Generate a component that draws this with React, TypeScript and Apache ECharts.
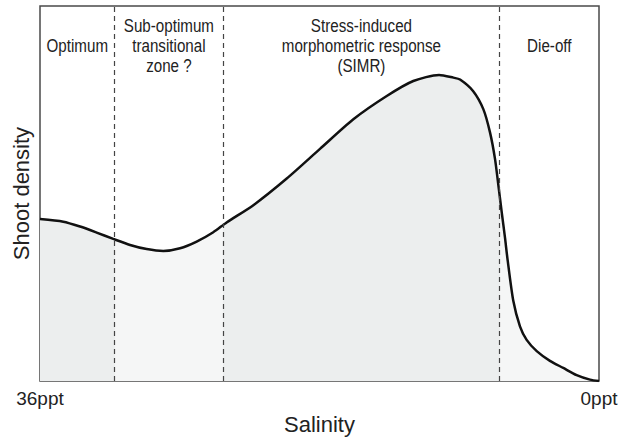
import React, { useEffect, useRef } from "react";
import * as echarts from "echarts";

// Salinity (ppt) along the x axis
const salinity = [36.0, 34.5, 33.42, 32.35, 31.28, 30.2, 29.13, 28.06, 26.98, 25.91, 24.84, 23.98, 22.26, 20.11, 17.97, 15.82, 13.67, 11.96, 10.3, 9.38, 8.95, 8.1, 7.45, 7.02, 6.7, 6.48, 6.27, 6.05, 5.9, 5.52, 5.09, 4.66, 4.01, 3.16, 2.3, 1.44, 0.58, 0.0];
// Relative shoot density (0-100)
const density = [43.2, 42.5, 41.2, 39.6, 37.9, 36.3, 35.2, 34.7, 35.4, 37.2, 39.7, 42.3, 46.9, 54.0, 61.9, 69.8, 76.0, 80.0, 81.6, 80.9, 80.4, 77.3, 72.5, 66.3, 59.3, 52.2, 45.2, 38.1, 32.8, 21.4, 14.6, 11.0, 8.0, 5.4, 3.5, 1.6, 0.4, 0.0];

// Zone boundaries (ppt) and labels
const zoneBounds = [36, 31.2, 24.2, 6.4, 0];
const zoneLabels = [
  "Optimum",
  "Sub-optimum\ntransitional\nzone ?",
  "Stress-induced\nmorphometric response\n(SIMR)",
  "Die-off",
];
const zoneFills = ["#eceeee", "#f5f6f6", "#eceeee", "#f5f6f6"];

const xTickValues = [36, 0];
const xTickLabels = ["36ppt", "0ppt"];

const LABEL_FONT = '"Liberation Sans", Arial, Helvetica, sans-serif';
const AXIS_FONT = '"Liberation Sans", Arial, Helvetica, sans-serif';

export default function App() {
  const ref = useRef<HTMLDivElement>(null);

  useEffect(() => {
    if (!ref.current) return;
    const chart = echarts.init(ref.current, undefined, { renderer: "svg" });

    const stops: { offset: number; color: string }[] = [];
    for (let i = 0; i < zoneFills.length; i++) {
      stops.push({ offset: (36 - zoneBounds[i]) / 36, color: zoneFills[i] });
      stops.push({ offset: (36 - zoneBounds[i + 1]) / 36, color: zoneFills[i] });
    }

    chart.setOption({
      animation: false,
      backgroundColor: "#ffffff",
      grid: {
        left: 40,
        right: 27,
        top: 6,
        bottom: 56,
        show: true,
        borderColor: "#4a4a4a",
        borderWidth: 1.5,
      },
      xAxis: {
        type: "value",
        min: 0,
        max: 36,
        interval: 36,
        inverse: true,
        name: "Salinity",
        nameLocation: "middle",
        nameGap: 26,
        nameTextStyle: { fontFamily: AXIS_FONT, fontSize: 22, color: "#222" },
        axisLine: { show: false },
        axisTick: { show: false },
        splitLine: { show: false },
        axisLabel: {
          fontFamily: AXIS_FONT,
          fontSize: 19,
          color: "#222",
          margin: 8,
          formatter: (v: number) => {
            const i = xTickValues.indexOf(v);
            return i >= 0 ? xTickLabels[i] : "";
          },
        },
      },
      yAxis: {
        type: "value",
        min: 0,
        max: 100,
        name: "Shoot density",
        nameLocation: "middle",
        nameGap: 8,
        nameTextStyle: { fontFamily: AXIS_FONT, fontSize: 22, color: "#222" },
        axisLine: { show: false },
        axisTick: { show: false },
        axisLabel: { show: false },
        splitLine: { show: false },
      },
      series: [
        {
          type: "line",
          data: salinity.map((s, i) => [s, density[i]]),
          smooth: 0.25,
          symbol: "none",
          lineStyle: { color: "#111", width: 2.5 },
          areaStyle: {
            opacity: 1,
            color: new echarts.graphic.LinearGradient(0, 0, 1, 0, stops),
          },
          markLine: {
            silent: true,
            symbol: "none",
            label: { show: false },
            lineStyle: { color: "#444", width: 1.2, type: [5, 4] },
            data: zoneBounds.slice(1, -1).map((b) => ({ xAxis: b })),
          },
          z: 3,
        },
      ],
    });

    const graphics = zoneLabels.map((t, i) => {
      const mid = (zoneBounds[i] + zoneBounds[i + 1]) / 2;
      const px = chart.convertToPixel({ xAxisIndex: 0 }, mid) as number;
      return {
        type: "text",
        x: px,
        y: 46,
        scaleX: 0.82,
        scaleY: 1,
        z: 10,
        style: {
          text: t,
          fill: "#222",
          font: `18.5px ${LABEL_FONT}`,
          lineHeight: 20,
          align: "center",
          verticalAlign: "middle",
        },
      };
    });
    chart.setOption({ graphic: graphics });

    return () => chart.dispose();
  }, []);

  return (
    <div
      ref={ref}
      style={{ position: "fixed", left: 0, top: 0, width: 626, height: 440 }}
    />
  );
}
